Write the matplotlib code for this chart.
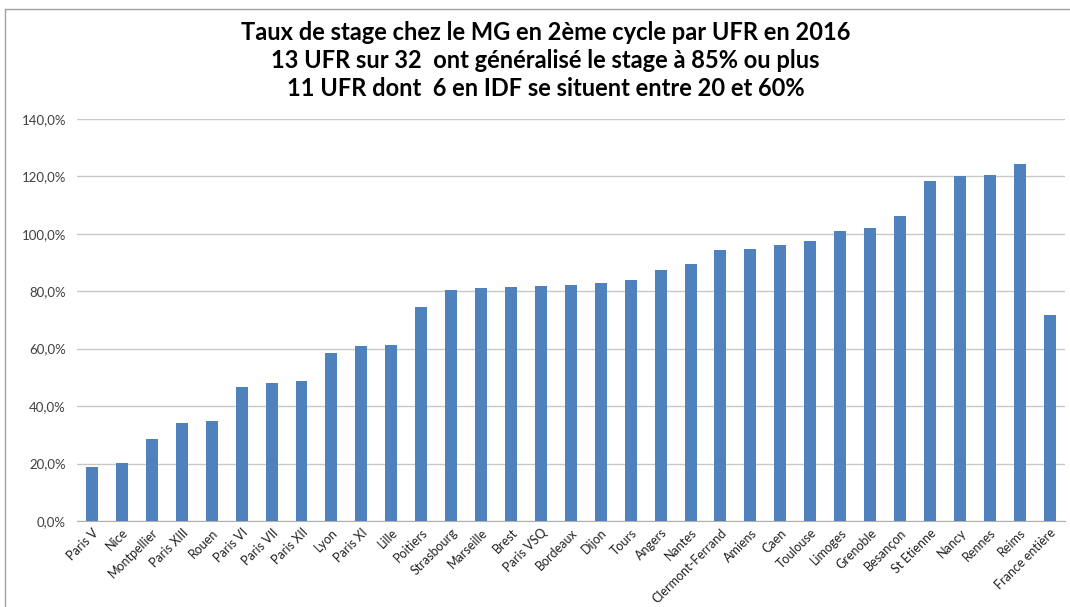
import matplotlib
matplotlib.use("Agg")
import matplotlib.pyplot as plt
from matplotlib.ticker import FuncFormatter
from matplotlib.lines import Line2D

# taux de stage par UFR (%)
ufrs = ["Paris V", "Nice", "Montpellier", "Paris XIII", "Rouen", "Paris VI",
        "Paris VII", "Paris XII", "Lyon", "Paris XI", "Lille", "Poitiers",
        "Strasbourg", "Marseille", "Brest", "Paris VSQ", "Bordeaux", "Dijon",
        "Tours", "Angers", "Nantes", "Clermont-Ferrand", "Amiens", "Caen",
        "Toulouse", "Limoges", "Grenoble", "Besançon", "St Etienne", "Nancy",
        "Rennes", "Reims", "France entière"]
taux = [18.8, 20.2, 28.7, 34.1, 34.8, 46.6, 48.0, 48.6, 58.5, 61.0, 61.3, 74.6,
        80.5, 81.2, 81.4, 81.9, 82.3, 82.7, 84.0, 87.4, 89.6, 94.2, 94.8, 96.0,
        97.4, 100.8, 102.1, 106.3, 118.5, 120.0, 120.4, 124.3, 71.8]
yticks = [0, 20, 40, 60, 80, 100, 120, 140]

plt.rcParams["font.family"] = ["Lato", "DejaVu Sans"]

fig = plt.figure(figsize=(10.7, 6.07), dpi=100)
ax = fig.add_axes([0.072, 0.1417, 0.923, 0.6625])

ax.bar(range(len(ufrs)), taux, width=0.4, color="#4F81BD", zorder=3)
ax.set_xlim(-0.5, len(ufrs) - 0.5)
ax.set_ylim(0, 140)
ax.set_yticks(yticks)
ax.yaxis.set_major_formatter(FuncFormatter(lambda v, p: f"{v:.1f}%".replace(".", ",")))
ax.grid(axis="y", color="#c8c8c8", linewidth=1, zorder=0)
ax.set_xticks(range(len(ufrs)))
ax.set_xticklabels(ufrs, rotation=45, ha="right", rotation_mode="anchor", fontsize=9)
ax.tick_params(axis="y", length=0, labelsize=9.5, pad=8, colors="#404040")
ax.tick_params(axis="x", length=0, pad=4, colors="#202020")
for s in ["top", "right", "left"]:
    ax.spines[s].set_visible(False)
ax.spines["bottom"].set_color("#b0b0b0")

fig.text(0.51, 0.946, "Taux de stage chez le MG en 2ème cycle par UFR en 2016",
         ha="center", va="center", fontsize=17, fontweight="bold")
fig.text(0.51, 0.900, "13 UFR sur 32  ont généralisé le stage à 85% ou plus",
         ha="center", va="center", fontsize=17, fontweight="bold")
fig.text(0.51, 0.854, "11 UFR dont  6 en IDF se situent entre 20 et 60%",
         ha="center", va="center", fontsize=17, fontweight="bold")

# cadre gris autour du graphique
fig.add_artist(Line2D([0.005, 0.005], [0, 0.985], transform=fig.transFigure, color="#a0a0a0", lw=1))
fig.add_artist(Line2D([0.005, 1.0], [0.985, 0.985], transform=fig.transFigure, color="#a0a0a0", lw=1))

fig.savefig("out.png", dpi=100)
